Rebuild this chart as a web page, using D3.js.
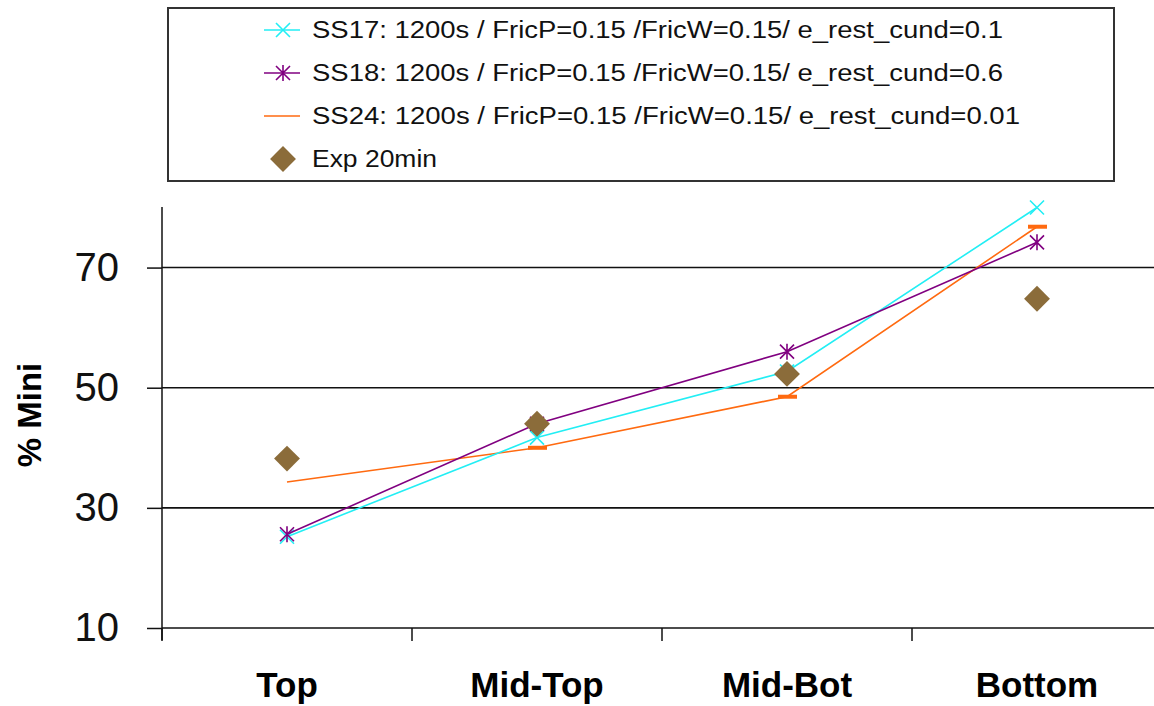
<!DOCTYPE html>
<html>
<head>
<meta charset="utf-8">
<script src="https://cdn.jsdelivr.net/npm/d3@7/dist/d3.min.js"></script>
<style>
  html, body { margin: 0; padding: 0; background: #fff; }
  svg { display: block; font-family: "Liberation Sans", Arial, sans-serif; }
</style>
</head>
<body>
<svg id="chart" width="1154" height="706"></svg>
<script>
// Sample positions along the column
const categories = ["Top", "Mid-Top", "Mid-Bot", "Bottom"];
const yTicks = [10, 30, 50, 70];

// % Mini per position for each simulation and the experiment
const ss17 = [25.2, 41.7, 52.7, 80.0];
const ss18 = [25.6, 44.0, 56.0, 74.2];
const ss24 = [34.3, 40.0, 48.5, 76.8];
const exp20 = [38.2, 44.0, 52.3, 64.8];

const seriesNames = [
  "SS17: 1200s / FricP=0.15 /FricW=0.15/ e_rest_cund=0.1",
  "SS18: 1200s / FricP=0.15 /FricW=0.15/ e_rest_cund=0.6",
  "SS24: 1200s / FricP=0.15 /FricW=0.15/ e_rest_cund=0.01",
  "Exp 20min"
];

const colors = { ss17: "#22eef4", ss18: "#800080", ss24: "#ff6a10", exp: "#8b6c3a" };

const svg = d3.select("#chart");
const plot = { left: 162, right: 1162, top: 207, bottom: 628 };

const x = d3.scaleBand().domain(categories).range([plot.left, plot.right]);
const y = d3.scaleLinear().domain([10, 80]).range([plot.bottom, plot.top + 0.5]);
const cx = c => x(c) + x.bandwidth() / 2;

// Horizontal gridlines
svg.append("g")
  .selectAll("line")
  .data(yTicks.slice(1))
  .join("line")
  .attr("x1", plot.left).attr("x2", 1154)
  .attr("y1", d => y(d)).attr("y2", d => y(d))
  .attr("stroke", "#111").attr("stroke-width", 1.6);

// Y axis
const yAxis = svg.append("g")
  .attr("transform", `translate(${plot.left},0)`)
  .call(d3.axisLeft(y).tickValues(yTicks).tickSize(15).tickPadding(28).tickFormat(d3.format("d")));
yAxis.select(".domain").attr("d", `M0,${plot.top}V${plot.bottom + 12}`).attr("stroke", "#111").attr("stroke-width", 1.5);
yAxis.selectAll(".tick line").attr("stroke", "#111").attr("stroke-width", 1.5);
yAxis.selectAll(".tick text")
  .attr("font-size", 40).attr("fill", "#111")
  .attr("font-family", "'Liberation Sans', Arial, sans-serif");

// X axis with ticks between categories
const xAxis = svg.append("g").attr("transform", `translate(0,${plot.bottom})`);
xAxis.append("line")
  .attr("x1", plot.left).attr("x2", 1154)
  .attr("y1", 0).attr("y2", 0)
  .attr("stroke", "#111").attr("stroke-width", 1.6);
xAxis.selectAll("line.tk")
  .data(categories)
  .join("line")
  .attr("class", "tk")
  .attr("x1", d => x(d)).attr("x2", d => x(d))
  .attr("y1", 0).attr("y2", 13)
  .attr("stroke", "#111").attr("stroke-width", 1.5);
xAxis.selectAll("text")
  .data(categories)
  .join("text")
  .attr("x", d => cx(d))
  .attr("y", 69)
  .attr("text-anchor", "middle")
  .attr("font-size", 35).attr("font-weight", "bold").attr("fill", "#000")
  .text(d => d);

// Y axis title
svg.append("text")
  .attr("transform", `translate(41,${415}) rotate(-90)`)
  .attr("text-anchor", "middle")
  .attr("font-size", 33).attr("font-weight", "bold").attr("fill", "#000")
  .text("% Mini");

// Marker shapes
function drawMarker(g, kind, px, py) {
  if (kind === "x" || kind === "star") {
    const s = 7;
    g.append("path")
      .attr("d", `M${px - s},${py - s}L${px + s},${py + s}M${px - s},${py + s}L${px + s},${py - s}` +
        (kind === "star" ? `M${px},${py - s - 1}L${px},${py + s + 1}` : ""))
      .attr("stroke", kind === "x" ? colors.ss17 : colors.ss18)
      .attr("stroke-width", 1.6).attr("fill", "none");
  } else if (kind === "dash") {
    g.append("rect")
      .attr("x", px - 9).attr("y", py - 2)
      .attr("width", 19).attr("height", 4)
      .attr("fill", colors.ss24);
  } else if (kind === "diamond") {
    g.append("path")
      .attr("d", d3.symbol(d3.symbolSquare, 335)())
      .attr("transform", `translate(${px},${py}) rotate(45)`)
      .attr("fill", colors.exp);
  }
}

const line = d3.line().x((d, i) => cx(categories[i])).y(d => y(d));

const lineSeries = [
  { values: ss24, color: colors.ss24, marker: "dash", width: 1.6 },
  { values: ss17, color: colors.ss17, marker: "x", width: 1.6 },
  { values: ss18, color: colors.ss18, marker: "star", width: 1.6 }
];

lineSeries.forEach(s => {
  const g = svg.append("g");
  g.append("path")
    .datum(s.values)
    .attr("d", line)
    .attr("fill", "none")
    .attr("stroke", s.color)
    .attr("stroke-width", s.width);
  s.values.forEach((v, i) => {
    if (s.marker === "dash" && i === 0) return;
    drawMarker(g, s.marker, cx(categories[i]), y(v));
  });
});

// Experiment points
const expG = svg.append("g");
exp20.forEach((v, i) => drawMarker(expG, "diamond", cx(categories[i]), y(v)));

// Legend
const legend = svg.append("g");
legend.append("rect")
  .attr("x", 168).attr("y", 8)
  .attr("width", 946).attr("height", 173)
  .attr("fill", "#fff").attr("stroke", "#333").attr("stroke-width", 2);

const legendRows = [
  { name: seriesNames[0], color: colors.ss17, marker: "x", line: true, len: 691 },
  { name: seriesNames[1], color: colors.ss18, marker: "star", line: true, len: 691 },
  { name: seriesNames[2], color: colors.ss24, marker: null, line: true, len: 708 },
  { name: seriesNames[3], color: colors.exp, marker: "diamond", line: false, len: 125 }
];
const rowY = [30, 73, 116, 159];

legendRows.forEach((r, i) => {
  const g = legend.append("g");
  const yy = rowY[i];
  if (r.line) {
    g.append("line")
      .attr("x1", 264).attr("x2", 300)
      .attr("y1", yy).attr("y2", yy)
      .attr("stroke", r.color).attr("stroke-width", 1.6);
  }
  if (r.marker) drawMarker(g, r.marker, 283, yy);
  g.append("text")
    .attr("x", 312).attr("y", yy + 8)
    .attr("font-size", 23).attr("fill", "#111")
    .attr("textLength", r.len).attr("lengthAdjust", "spacingAndGlyphs")
    .text(r.name);
});
</script>
</body>
</html>
